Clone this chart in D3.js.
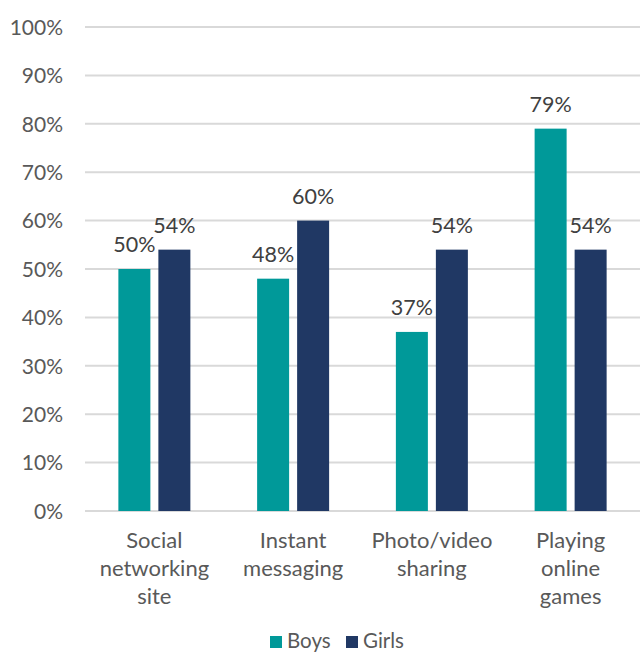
<!DOCTYPE html>
<html>
<head>
<meta charset="utf-8">
<script src="https://cdn.jsdelivr.net/npm/d3@7"></script>
<style>
  html, body { margin: 0; padding: 0; background: #fff; }
  svg { display: block; font-family: Lato, "Open Sans", sans-serif; }
</style>
</head>
<body>
<svg id="chart" width="640" height="653"></svg>
<script>
const categories = [["Social", "networking", "site"], ["Instant", "messaging"], ["Photo/video", "sharing"], ["Playing", "online", "games"]];
const seriesNames = ["Boys", "Girls"];
const boys = [50, 48, 37, 79];
const girls = [54, 60, 54, 54];
const yTicks = [0, 10, 20, 30, 40, 50, 60, 70, 80, 90, 100];
const colors = ["#009999", "#203864"];

const svg = d3.select("#chart");
const margin = { top: 27, right: 0, bottom: 142, left: 85 };
const width = 640 - margin.left - margin.right;
const height = 653 - margin.top - margin.bottom;
const g = svg.append("g").attr("transform", `translate(${margin.left},${margin.top})`);

const x0 = d3.scaleBand().domain(d3.range(categories.length)).range([0, width]).paddingInner(0).paddingOuter(0);
const x1 = d3.scaleBand().domain(seriesNames).range([x0.bandwidth() / 2 - 36, x0.bandwidth() / 2 + 36]).paddingInner(0.2);
const y = d3.scaleLinear().domain([0, 100]).range([height, 0]);

// gridlines
g.append("g").selectAll("line").data(yTicks).join("line")
  .attr("x1", 0).attr("x2", width)
  .attr("y1", d => y(d)).attr("y2", d => y(d))
  .attr("stroke", "#d9d9d9").attr("stroke-width", 2);

// y axis labels
const yAxis = d3.axisLeft(y).tickValues(yTicks).tickFormat(d => d + "%").tickSize(0).tickPadding(22);
const ya = g.append("g").call(yAxis);
ya.select(".domain").remove();
ya.selectAll("text").attr("font-size", 21).attr("fill", "#595959").attr("font-family", "Lato, sans-serif").attr("dy", "0.35em");

const data = categories.map((c, i) => ({ i, values: [boys[i], girls[i]] }));

const groups = g.selectAll(".grp").data(data).join("g")
  .attr("transform", d => `translate(${x0(d.i)},0)`);

groups.selectAll("rect").data(d => d.values.map((v, k) => ({ v, k }))).join("rect")
  .attr("x", d => x1(seriesNames[d.k]))
  .attr("width", x1.bandwidth())
  .attr("y", d => y(d.v))
  .attr("height", d => y(0) - y(d.v))
  .attr("fill", d => colors[d.k]);

groups.selectAll(".val").data(d => d.values.map((v, k) => ({ v, k }))).join("text")
  .attr("class", "val")
  .attr("x", d => x1(seriesNames[d.k]) + x1.bandwidth() / 2)
  .attr("y", d => y(d.v) - 17)
  .attr("text-anchor", "middle")
  .attr("font-size", 21.5)
  .attr("fill", "#404040")
  .text(d => d.v + "%");

// category labels
groups.append("text")
  .attr("text-anchor", "middle")
  .attr("font-size", 22)
  .attr("fill", "#595959")
  .selectAll("tspan").data(d => categories[d.i]).join("tspan")
  .attr("x", x0.bandwidth() / 2)
  .attr("y", (d, k) => height + 37 + k * 28)
  .text(d => d);

// legend
const legend = svg.append("g").attr("transform", "translate(270,648)");
const items = [{ name: "Boys", c: colors[0], x: 0 }, { name: "Girls", c: colors[1], x: 76 }];
const li = legend.selectAll("g").data(items).join("g").attr("transform", d => `translate(${d.x},0)`);
li.append("rect").attr("x", 0).attr("y", -12).attr("width", 12).attr("height", 12).attr("fill", d => d.c);
li.append("text").attr("x", 17).attr("y", 0).attr("font-size", 20.5).attr("fill", "#595959").text(d => d.name);
</script>
</body>
</html>
